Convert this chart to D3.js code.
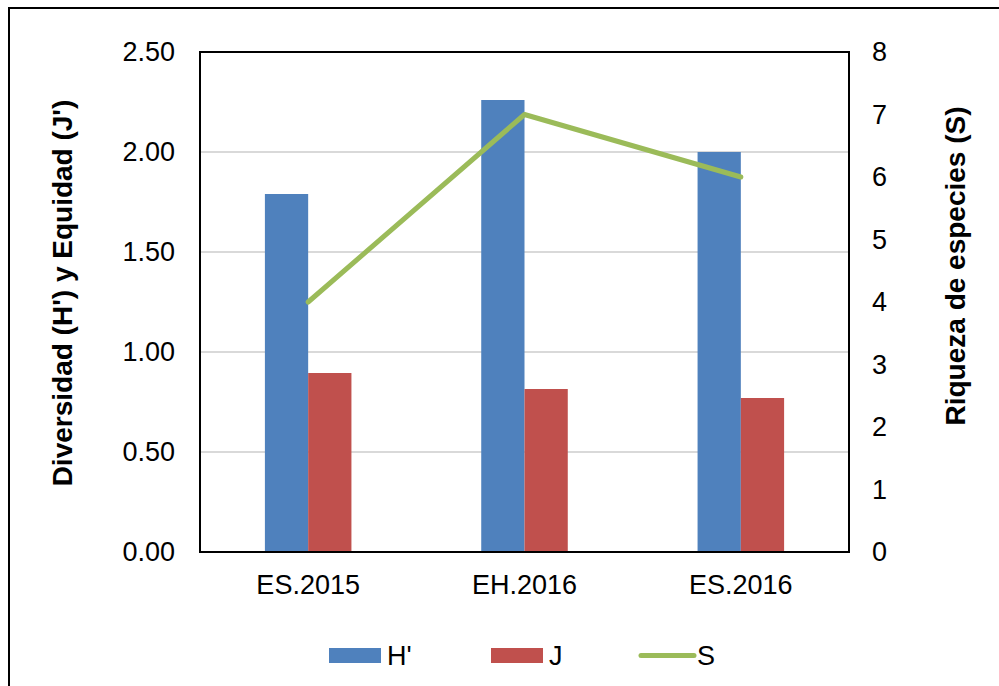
<!DOCTYPE html>
<html>
<head>
<meta charset="utf-8">
<script src="https://cdn.jsdelivr.net/npm/d3@7"></script>
<style>
  body { margin: 0; background: #fff; }
  text { font-family: Arial, "Liberation Sans", sans-serif; fill: #000; }
</style>
</head>
<body>
<svg id="chart" width="999" height="686"></svg>
<script>
// data
var categories = ["ES.2015", "EH.2016", "ES.2016"];
var hValues = [1.79, 2.26, 2.00];   // H'
var jValues = [0.895, 0.815, 0.77]; // J
var sValues = [4, 7, 6];            // S
var leftTicks = [0, 0.5, 1, 1.5, 2, 2.5];
var rightTicks = [0, 1, 2, 3, 4, 5, 6, 7, 8];

var svg = d3.select("#chart"),
  margin = {left: 200, top: 52, right: 150, bottom: 134},
  width = 999 - margin.left - margin.right,
  height = 686 - margin.top - margin.bottom;

// outer frame (runs off the right and bottom edge)
svg.append("rect")
  .attr("x", 9).attr("y", 8)
  .attr("width", 1100).attr("height", 800)
  .attr("fill", "none").attr("stroke", "#000").attr("stroke-width", 2);

var g = svg.append("g").attr("transform", "translate(" + margin.left + "," + margin.top + ")");

var x = d3.scaleBand().domain(categories).range([0, width]);
var yL = d3.scaleLinear().domain([0, 2.5]).range([height, 0]);
var yR = d3.scaleLinear().domain([0, 8]).range([height, 0]);
var barW = x.bandwidth() * 0.2;

// gridlines
g.selectAll(".grid").data(leftTicks.slice(1, -1)).enter().append("line")
  .attr("x1", 0).attr("x2", width)
  .attr("y1", function (d) { return yL(d); })
  .attr("y2", function (d) { return yL(d); })
  .attr("stroke", "#d9d9d9").attr("stroke-width", 2);

// bars
g.selectAll(".barH").data(hValues).enter().append("rect")
  .attr("x", function (d, i) { return x(categories[i]) + x.bandwidth() / 2 - barW; })
  .attr("y", function (d) { return yL(d); })
  .attr("width", barW)
  .attr("height", function (d) { return height - yL(d); })
  .attr("fill", "#4f81bd");

g.selectAll(".barJ").data(jValues).enter().append("rect")
  .attr("x", function (d, i) { return x(categories[i]) + x.bandwidth() / 2; })
  .attr("y", function (d) { return yL(d); })
  .attr("width", barW)
  .attr("height", function (d) { return height - yL(d); })
  .attr("fill", "#c0504d");

// line S
var line = d3.line()
  .x(function (d, i) { return x(categories[i]) + x.bandwidth() / 2; })
  .y(function (d) { return yR(d); });

g.append("path").datum(sValues)
  .attr("d", line)
  .attr("fill", "none")
  .attr("stroke", "#9bbb59")
  .attr("stroke-width", 5)
  .attr("stroke-linejoin", "round")
  .attr("stroke-linecap", "round");

// plot frame
g.append("rect")
  .attr("width", width).attr("height", height)
  .attr("fill", "none").attr("stroke", "#000").attr("stroke-width", 2);

// axes
var axL = g.append("g").call(d3.axisLeft(yL).tickValues(leftTicks).tickFormat(d3.format(".2f")).tickSize(0).tickPadding(25));
var axR = g.append("g").attr("transform", "translate(" + width + ",0)")
  .call(d3.axisRight(yR).tickValues(rightTicks).tickSize(0).tickPadding(23));
var axB = g.append("g").attr("transform", "translate(0," + height + ")")
  .call(d3.axisBottom(x).tickSize(0).tickPadding(23));

[axL, axR, axB].forEach(function (a) {
  a.select(".domain").remove();
  a.selectAll("text").style("font-size", "27px").attr("font-family", null);
});

// axis titles
svg.append("text")
  .attr("transform", "translate(72,293) rotate(-90)")
  .attr("text-anchor", "middle")
  .style("font-size", "28px").style("font-weight", "bold")
  .text("Diversidad (H') y Equidad (J')");

svg.append("text")
  .attr("transform", "translate(965,266) rotate(-90)")
  .attr("text-anchor", "middle")
  .style("font-size", "28px").style("font-weight", "bold")
  .text("Riqueza de especies (S)");

// legend
var legend = [
  {name: "H'", color: "#4f81bd", type: "bar", x: 329},
  {name: "J", color: "#c0504d", type: "bar", x: 491},
  {name: "S", color: "#9bbb59", type: "line", x: 639}
];
var lg = svg.append("g");
legend.forEach(function (d) {
  if (d.type === "bar") {
    lg.append("rect").attr("x", d.x).attr("y", 648).attr("width", 52).attr("height", 15).attr("fill", d.color);
  } else {
    lg.append("line").attr("x1", d.x + 2).attr("x2", d.x + 55).attr("y1", 655.5).attr("y2", 655.5)
      .attr("stroke", d.color).attr("stroke-width", 5).attr("stroke-linecap", "round");
  }
  lg.append("text").attr("x", d.x + 58).attr("y", 665).style("font-size", "27px").text(d.name);
});
</script>
</body>
</html>
